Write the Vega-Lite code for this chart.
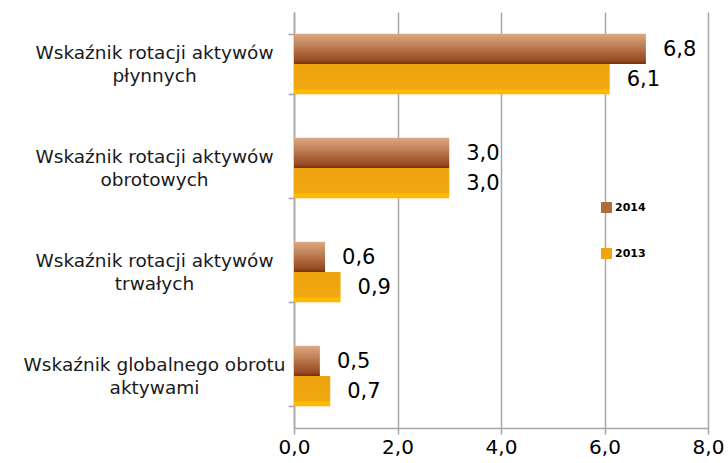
{
  "$schema": "https://vega.github.io/schema/vega-lite/v6.json",
  "width": 414,
  "height": 416,
  "autosize": "none",
  "padding": {"left": 294, "top": 12, "right": 20, "bottom": 35},
  "background": "white",
  "config": {
    "view": {"stroke": null},
    "font": "DejaVu Sans",
    "locale": {"number": {"decimal": ",", "thousands": " ", "grouping": [3], "currency": ["", " zł"]}}
  },
  "data": {
    "values": [
      {"cat": "Wskaźnik rotacji aktywów|płynnych", "year": "2014", "value": 6.8},
      {"cat": "Wskaźnik rotacji aktywów|płynnych", "year": "2013", "value": 6.1},
      {"cat": "Wskaźnik rotacji aktywów|obrotowych", "year": "2014", "value": 3.0},
      {"cat": "Wskaźnik rotacji aktywów|obrotowych", "year": "2013", "value": 3.0},
      {"cat": "Wskaźnik rotacji aktywów|trwałych", "year": "2014", "value": 0.6},
      {"cat": "Wskaźnik rotacji aktywów|trwałych", "year": "2013", "value": 0.9},
      {"cat": "Wskaźnik globalnego obrotu|aktywami", "year": "2014", "value": 0.5},
      {"cat": "Wskaźnik globalnego obrotu|aktywami", "year": "2013", "value": 0.7}
    ]
  },
  "encoding": {
    "y": {
      "field": "cat", "type": "nominal", "sort": null,
      "scale": {"paddingInner": 0.42, "paddingOuter": 0.21},
      "axis": {
        "title": null,
        "labelExpr": "split(datum.label, '|')",
        "labelAlign": "center",
        "labelBaseline": "middle",
        "labelPadding": 134,
        "labelOffset": -11.5,
        "labelFontSize": 18.5,
        "labelLineHeight": 23,
        "labelColor": "#1a1a1a",
        "labelLimit": 0,
        "tickBand": "extent",
        "tickSize": 6,
        "tickColor": "#a6a6a6",
        "tickWidth": 1.5,
        "domainColor": "#a6a6a6",
        "domainWidth": 1.5,
        "grid": false,
        "encode": {
          "labels": {
            "dx": {"condition": {"test": "indexof(datum.value, 'globalnego') >= 0", "value": -10}, "value": 0}
          }
        }
      }
    },
    "yOffset": {"field": "year", "type": "nominal", "sort": ["2014", "2013"], "scale": {"paddingInner": 0, "paddingOuter": 0}},
    "x": {
      "field": "value", "type": "quantitative",
      "scale": {"domain": [0, 8], "nice": false},
      "axis": {
        "title": null,
        "values": [0, 2, 4, 6, 8],
        "format": ".1f",
        "grid": true,
        "gridColor": "#a6a6a6",
        "gridWidth": 1.5,
        "domainColor": "#a6a6a6",
        "domainWidth": 1.5,
        "tickColor": "#a6a6a6",
        "tickWidth": 1.5,
        "tickSize": 6,
        "labelFontSize": 20,
        "labelColor": "#000000",
        "labelPadding": 3,
        "labelFlush": false,
        "labelOverlap": false
      }
    }
  },
  "layer": [
    {
      "transform": [{"filter": "datum.year == '2014'"}],
      "mark": {
        "type": "bar",
        "fill": {"gradient": "linear", "x1": 0, "y1": 0, "x2": 0, "y2": 1,
          "stops": [
            {"offset": 0, "color": "#dca882"},
            {"offset": 0.5, "color": "#b77448"},
            {"offset": 0.9, "color": "#94481f"},
            {"offset": 1, "color": "#6a3010"}
          ]}
      }
    },
    {
      "transform": [{"filter": "datum.year == '2013'"}],
      "mark": {
        "type": "bar",
        "fill": {"gradient": "linear", "x1": 0, "y1": 0, "x2": 0, "y2": 1,
          "stops": [
            {"offset": 0, "color": "#eea30f"},
            {"offset": 0.8, "color": "#f1a70e"},
            {"offset": 0.9, "color": "#ffc000"},
            {"offset": 1, "color": "#ffb000"}
          ]}
      }
    },
    {
      "mark": {"type": "text", "align": "left", "baseline": "middle", "dx": 17, "dy": 1, "fontSize": 21, "font": "DejaVu Sans", "color": "#000000"},
      "encoding": {
        "text": {"field": "value", "type": "quantitative", "format": ".1f"}
      }
    },
    {
      "mark": {"type": "square", "opacity": 0},
      "encoding": {
        "color": {
          "field": "year", "type": "nominal",
          "scale": {"domain": ["2014", "2013"], "range": ["#b06a3e", "#f0a412"]},
          "legend": {
            "title": null,
            "orient": "none",
            "legendX": 307,
            "legendY": 190,
            "padding": 0,
            "symbolType": "square",
            "symbolSize": 121,
            "symbolOpacity": 1,
            "symbolStrokeWidth": 0,
            "labelFont": "DejaVu Sans",
            "labelFontWeight": "bold",
            "labelFontSize": 11,
            "labelColor": "#000000",
            "labelOffset": 3,
            "rowPadding": 34
          }
        }
      }
    }
  ]
}
